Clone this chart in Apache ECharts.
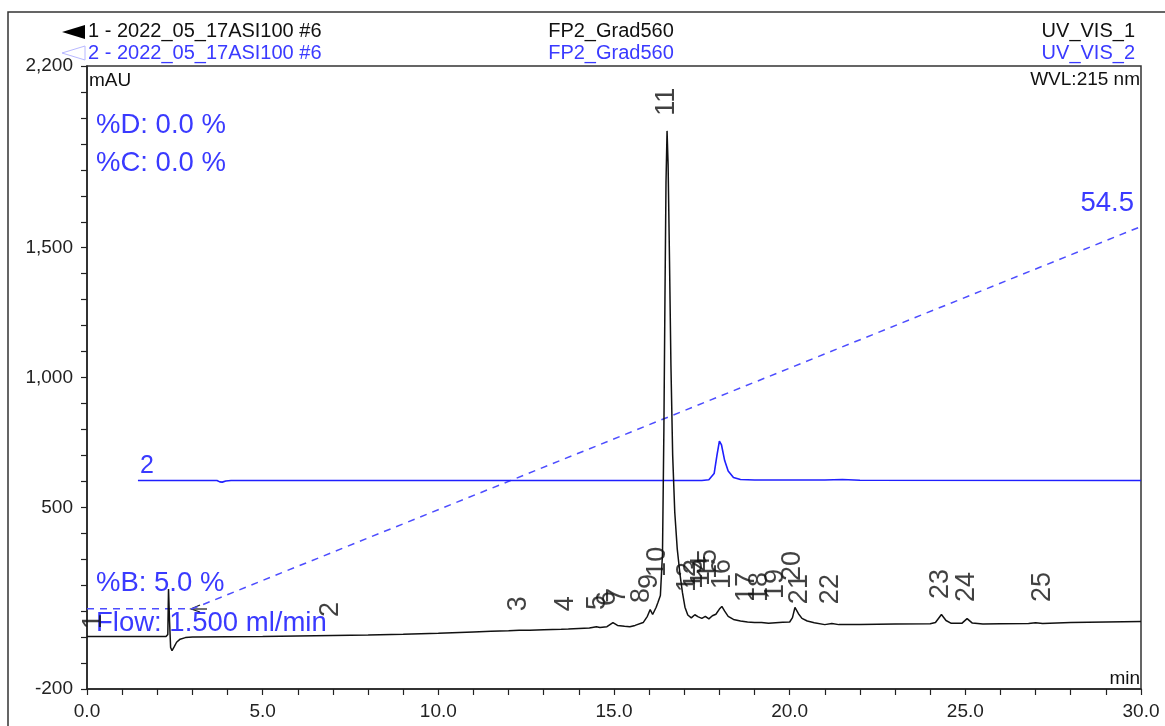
<!DOCTYPE html>
<html>
<head>
<meta charset="utf-8">
<script src="https://cdn.jsdelivr.net/npm/echarts@6/dist/echarts.min.js"></script>
<style>
html,body{margin:0;padding:0;background:#fff;}
#chart{width:1165px;height:726px;}
</style>
</head>
<body>
<div id="chart"></div>
<script>
// ---- Data ----
// Trace 1 (UV_VIS_1), time [min], absorbance [mAU]
const trace1Time = [0,1,2,2.25,2.3,2.32,2.35,2.38,2.42,2.48,2.55,2.65,2.8,3.0,4,5,6,7,8,9,10,11,11.5,12,12.3,12.6,13,13.5,13.7,14,14.3,14.5,14.6,14.8,14.97,15.1,15.3,15.45,15.6,15.83,15.95,16.03,16.1,16.2,16.25,16.32,16.38,16.42,16.45,16.48,16.51,16.54,16.58,16.62,16.67,16.73,16.8,16.88,16.95,17.02,17.1,17.2,17.3,17.4,17.5,17.6,17.7,17.8,17.9,18.0,18.07,18.15,18.25,18.4,18.6,18.8,19.0,19.2,19.4,19.6,19.8,20.0,20.08,20.15,20.25,20.35,20.5,20.7,21.0,21.2,21.4,22,23,24,24.15,24.32,24.45,24.6,24.9,25.05,25.2,25.5,26,26.8,27.0,27.2,28,29,30];
const trace1Value = [2,2,2,2,10,185,60,-40,-52,-38,-20,-8,-2,0,1,2,4,6,8,11,15,20,22,24,26,26,28,30,31,33,35,40,37,40,56,45,42,40,45,56,80,106,87,115,133,160,320,800,1300,1750,1950,1820,1450,1050,700,480,340,240,170,115,85,74,86,78,72,80,70,82,88,108,118,100,80,68,62,58,56,56,53,55,57,58,75,114,90,72,62,55,48,52,48,48,50,51,56,87,64,53,53,71,54,50,51,52,55,52,56,58,60];

// Trace 2 (UV_VIS_2), displayed with its offset
const trace2Time = [1.45,3.7,3.78,3.85,3.95,4.1,10,17.5,17.7,17.85,17.93,18.0,18.06,18.15,18.25,18.4,18.6,19,21,21.5,22,30];
const trace2Value = [603,603,598,597,601,603,603,603,606,630,700,755,740,680,640,615,607,605,605,607,604,603];

// Gradient %B
const gradTime = [0,3,30];
const gradPercentB = [5,5,54.5];

// Peak labels: number, retention time [min], label anchor level [mAU]
const peakNames = ['1','2','3','4','5','6','7','8','9','10','11','12','13','14','15','16','17','18','19','20','21','22','23','24','25'];
const peakTimes = [0.2,6.96,12.29,13.63,14.54,14.83,15.12,15.8,16.02,16.25,16.51,17.1,17.3,17.5,17.7,18.1,18.8,19.15,19.6,20.1,20.3,21.19,24.32,25.04,27.2];
const peakLabelLevel = [29,75,98,98,102,118,129,129,183,230,2006,172,183,195,222,183,133,133,145,214,125,125,145,133,133];

// Axis ticks
const yLabelValues = [-200,500,1000,1500,2200];
const xLabelStep = 5;

// ---- Chart ----
const FONT = 'Liberation Sans, Arial, sans-serif';
const BLUE = '#3a3aff';
const chart = echarts.init(document.getElementById('chart'));

const s1 = trace1Time.map((t,i)=>[t,trace1Value[i]]);
const s2 = trace2Time.map((t,i)=>[t,trace2Value[i]]);
const sg = gradTime.map((t,i)=>[t,gradPercentB[i]]);
const peaks = peakTimes.map((t,i)=>({value:[t,peakLabelLevel[i]],name:peakNames[i]}));

// %B axis scaled so that 5 % and 54.5 % sit where the reference draws them
const bMin = -5.39, bMax = 75.29;

chart.setOption({
  animation:false,
  backgroundColor:'#fff',
  grid:{left:87,right:24,top:66,bottom:37,show:true,borderColor:'#333',borderWidth:1.5,backgroundColor:'transparent'},
  xAxis:{
    type:'value',min:0,max:30,interval:1,
    axisLine:{onZero:false,lineStyle:{color:'#222',width:1.5}},
    axisTick:{length:6,lineStyle:{color:'#222',width:1.2}},
    axisLabel:{color:'#222',fontFamily:FONT,fontSize:19,margin:13,
      formatter:v=> (Math.abs(v % xLabelStep) < 1e-9 ? v.toFixed(1) : '')},
    splitLine:{show:false}
  },
  yAxis:[{
    type:'value',min:-200,max:2200,interval:100,
    axisLine:{show:true,onZero:false,lineStyle:{color:'#222',width:1.5}},
    axisTick:{show:true,length:6,lineStyle:{color:'#222',width:1.2}},
    axisLabel:{color:'#222',fontFamily:FONT,fontSize:19,margin:14,
      formatter:v=> yLabelValues.includes(v) ? v.toLocaleString('en-US') : ''},
    splitLine:{show:false}
  },{
    type:'value',min:bMin,max:bMax,show:false,splitLine:{show:false}
  }],
  series:[
    {type:'line',data:sg,yAxisIndex:1,showSymbol:false,silent:true,
     lineStyle:{color:'#4d4dff',width:1.5,type:[7,6]},z:1},
    {type:'line',data:s2,showSymbol:false,silent:true,
     lineStyle:{color:'#1f1fff',width:1.6},z:2},
    {type:'line',data:s1,showSymbol:false,silent:true,
     lineStyle:{color:'#111',width:1.5},z:3},
    {type:'scatter',data:peaks,symbolSize:1,itemStyle:{color:'rgba(0,0,0,0)'},silent:true,z:4,
     label:{show:true,position:[0,0],rotate:90,align:'left',verticalAlign:'middle',
       formatter:p=>p.name,color:'#111',fontFamily:FONT,fontSize:27}}
  ],
  graphic:[
    {type:'rect',shape:{x:8,y:12,width:1200,height:800},style:{fill:'none',stroke:'#333',lineWidth:1.5},silent:true},
    // header markers
    {type:'polygon',shape:{points:[[62,32],[85,25],[85,39]]},style:{fill:'#000'}},
    {type:'polygon',shape:{points:[[62,53],[85,46],[85,60]]},style:{fill:'none',stroke:'#b8b8ff',lineWidth:1}},
    {type:'text',left:88,top:21,style:{text:'1 - 2022_05_17ASI100 #6',fill:'#111',font:'20px '+FONT}},
    {type:'text',left:88,top:43,style:{text:'2 - 2022_05_17ASI100 #6',fill:BLUE,font:'20px '+FONT}},
    {type:'text',x:611,y:31,style:{text:'FP2_Grad560',fill:'#111',font:'20px '+FONT,textAlign:'center',textVerticalAlign:'middle'}},
    {type:'text',x:611,y:53,style:{text:'FP2_Grad560',fill:BLUE,font:'20px '+FONT,textAlign:'center',textVerticalAlign:'middle'}},
    {type:'text',x:1135,y:31,style:{text:'UV_VIS_1',fill:'#111',font:'20px '+FONT,textAlign:'right',textVerticalAlign:'middle'}},
    {type:'text',x:1135,y:53,style:{text:'UV_VIS_2',fill:BLUE,font:'20px '+FONT,textAlign:'right',textVerticalAlign:'middle'}},
    {type:'text',x:1140,y:80,style:{text:'WVL:215 nm',fill:'#111',font:'19px '+FONT,textAlign:'right',textVerticalAlign:'middle'}},
    {type:'text',x:89,y:81,style:{text:'mAU',fill:'#111',font:'19px '+FONT,textAlign:'left',textVerticalAlign:'middle'}},
    {type:'text',x:1140,y:679,style:{text:'min',fill:'#111',font:'19px '+FONT,textAlign:'right',textVerticalAlign:'middle'}},
    // method annotations
    {type:'text',x:96,y:125,style:{text:'%D: 0.0 %',fill:BLUE,font:'27.5px '+FONT,textVerticalAlign:'middle'}},
    {type:'text',x:96,y:163,style:{text:'%C: 0.0 %',fill:BLUE,font:'27.5px '+FONT,textVerticalAlign:'middle'}},
    {type:'text',x:96,y:583,style:{text:'%B: 5.0 %',fill:BLUE,font:'27.5px '+FONT,textVerticalAlign:'middle'}},
    {type:'text',x:96,y:623,style:{text:'Flow: 1.500 ml/min',fill:BLUE,font:'27.5px '+FONT,textVerticalAlign:'middle'}},
    {type:'text',x:1134,y:203,style:{text:'54.5',fill:BLUE,font:'27.5px '+FONT,textAlign:'right',textVerticalAlign:'middle'}},
    {type:'text',x:140,y:466,style:{text:'2',fill:BLUE,font:'25px '+FONT,textVerticalAlign:'middle'}},
    {type:'polyline',shape:{points:[[200,605],[191,609],[200,612]]},style:{stroke:'#222',lineWidth:1.3,fill:'none'}},
    {type:'line',shape:{x1:191,y1:609,x2:207,y2:609},style:{stroke:'#222',lineWidth:1.3}}
  ]
});
</script>
</body>
</html>
